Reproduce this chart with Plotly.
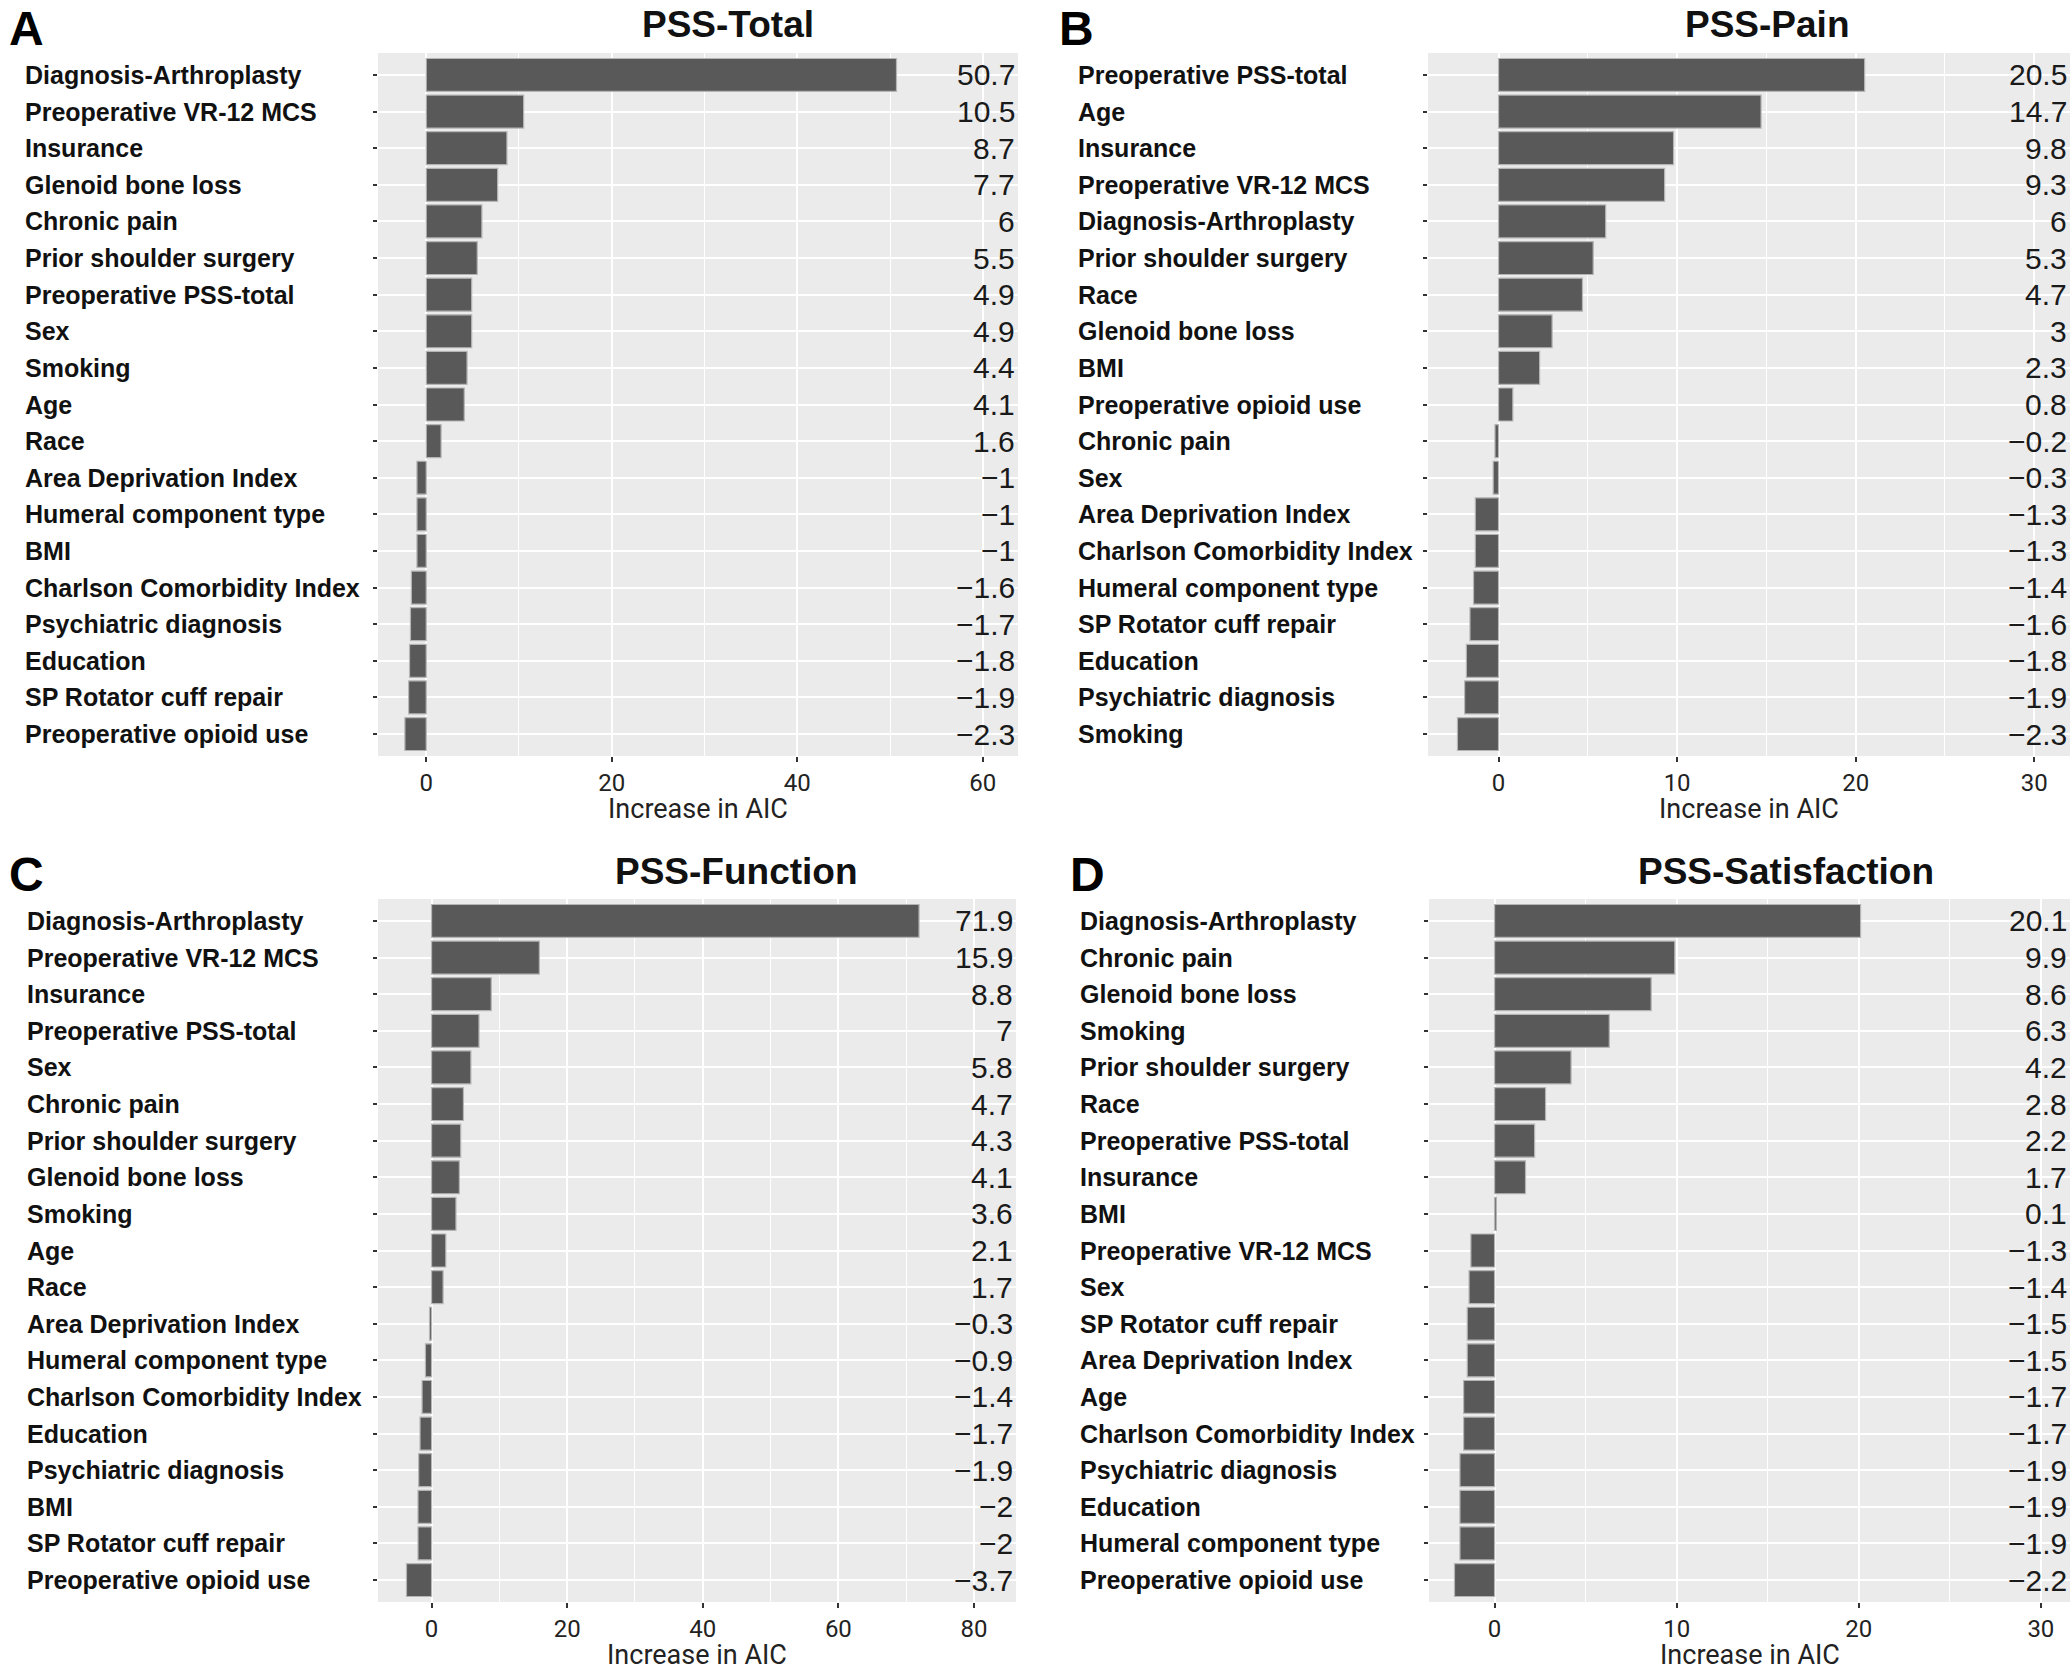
import plotly.graph_objects as go

W, H = 2072, 1672

# ---------------- data ----------------
total_labels = ["Diagnosis-Arthroplasty", "Preoperative VR-12 MCS", "Insurance", "Glenoid bone loss",
                "Chronic pain", "Prior shoulder surgery", "Preoperative PSS-total", "Sex", "Smoking",
                "Age", "Race", "Area Deprivation Index", "Humeral component type", "BMI",
                "Charlson Comorbidity Index", "Psychiatric diagnosis", "Education",
                "SP Rotator cuff repair", "Preoperative opioid use"]
total_values = [50.7, 10.5, 8.7, 7.7, 6, 5.5, 4.9, 4.9, 4.4, 4.1, 1.6, -1, -1, -1, -1.6, -1.7, -1.8, -1.9, -2.3]

pain_labels = ["Preoperative PSS-total", "Age", "Insurance", "Preoperative VR-12 MCS",
               "Diagnosis-Arthroplasty", "Prior shoulder surgery", "Race", "Glenoid bone loss", "BMI",
               "Preoperative opioid use", "Chronic pain", "Sex", "Area Deprivation Index",
               "Charlson Comorbidity Index", "Humeral component type", "SP Rotator cuff repair",
               "Education", "Psychiatric diagnosis", "Smoking"]
pain_values = [20.5, 14.7, 9.8, 9.3, 6, 5.3, 4.7, 3, 2.3, 0.8, -0.2, -0.3, -1.3, -1.3, -1.4, -1.6, -1.8, -1.9, -2.3]

function_labels = ["Diagnosis-Arthroplasty", "Preoperative VR-12 MCS", "Insurance", "Preoperative PSS-total",
                   "Sex", "Chronic pain", "Prior shoulder surgery", "Glenoid bone loss", "Smoking", "Age",
                   "Race", "Area Deprivation Index", "Humeral component type", "Charlson Comorbidity Index",
                   "Education", "Psychiatric diagnosis", "BMI", "SP Rotator cuff repair",
                   "Preoperative opioid use"]
function_values = [71.9, 15.9, 8.8, 7, 5.8, 4.7, 4.3, 4.1, 3.6, 2.1, 1.7, -0.3, -0.9, -1.4, -1.7, -1.9, -2, -2, -3.7]

satisfaction_labels = ["Diagnosis-Arthroplasty", "Chronic pain", "Glenoid bone loss", "Smoking",
                       "Prior shoulder surgery", "Race", "Preoperative PSS-total", "Insurance", "BMI",
                       "Preoperative VR-12 MCS", "Sex", "SP Rotator cuff repair", "Area Deprivation Index",
                       "Age", "Charlson Comorbidity Index", "Psychiatric diagnosis", "Education",
                       "Humeral component type", "Preoperative opioid use"]
satisfaction_values = [20.1, 9.9, 8.6, 6.3, 4.2, 2.8, 2.2, 1.7, 0.1, -1.3, -1.4, -1.5, -1.5, -1.7, -1.7,
                       -1.9, -1.9, -1.9, -2.2]

panel_titles = ["PSS-Total", "PSS-Pain", "PSS-Function", "PSS-Satisfaction"]
panel_letters = ["A", "B", "C", "D"]
x_title = "Increase in AIC"
major_ticks = [[0, 20, 40, 60], [0, 10, 20, 30], [0, 20, 40, 60, 80], [0, 10, 20, 30]]
minor_step = [10, 5, 10, 5]

# ---------------- layout geometry (pixels) ----------------
def px(x):
    return x / W

def py(y):
    return 1 - y / H

panels = [
    # plot left, right, top, bottom, x range, label x, title center x, letter x
    dict(l=378, r=1018, t=53, b=756, rng=[-5.2, 63.8], labx=23, titx=728, letx=7),
    dict(l=1428, r=2070, t=53, b=756, rng=[-3.95, 32.0], labx=1076, titx=1767, letx=1057),
    dict(l=378, r=1016, t=899, b=1602, rng=[-7.9, 86.2], labx=25, titx=736, letx=7),
    dict(l=1429, r=2070, t=899, b=1602, rng=[-3.6, 31.6], labx=1078, titx=1786, letx=1068),
]
data = [(total_labels, total_values), (pain_labels, pain_values),
        (function_labels, function_values), (satisfaction_labels, satisfaction_values)]

fig = go.Figure()
annotations = []
BAR = "#595959"
LABEL_FONT = "Liberation Sans, Arial, sans-serif"
AXIS_FONT = "Roboto, sans-serif"


def fmt(v):
    s = ("%g" % v)
    return s.replace("-", "\u2212")


for i, (p, (labs, vals)) in enumerate(zip(panels, data)):
    n = i + 1
    xa = "x" if n == 1 else f"x{n}"
    ya = "y" if n == 1 else f"y{n}"
    fig.add_trace(go.Bar(
        x=vals, y=labs, orientation="h", xaxis=xa, yaxis=ya,
        marker=dict(color=BAR, line=dict(color="#b5b5b5", width=1.2)),
        width=0.9, showlegend=False, hoverinfo="x+y",
    ))
    xkey = "xaxis" if n == 1 else f"xaxis{n}"
    ykey = "yaxis" if n == 1 else f"yaxis{n}"
    fig.layout[xkey] = dict(
        domain=[px(p["l"]), px(p["r"])], anchor=ya, range=p["rng"],
        tickmode="array", tickvals=major_ticks[i], ticktext=[str(t) for t in major_ticks[i]],
        showgrid=True, gridcolor="white", gridwidth=2.2, zeroline=False,
        ticks="outside", ticklen=5, tickwidth=2, tickcolor="#333333",
        tickfont=dict(family=AXIS_FONT, size=24, color="#222222"),
        minor=dict(tick0=0, dtick=minor_step[i], showgrid=True, gridcolor="white", gridwidth=1.1, ticks=""),
        showline=False, fixedrange=True,
    )
    fig.layout[ykey] = dict(
        domain=[py(p["b"]), py(p["t"])], anchor=xa, type="category",
        categoryorder="array", categoryarray=labs, range=[len(labs) - 0.4, -0.6],
        showgrid=True, gridcolor="white", gridwidth=2.2, zeroline=False,
        ticks="outside", ticklen=4, tickwidth=2, tickcolor="#333333",
        showticklabels=False, showline=False, fixedrange=True,
    )
    # left-aligned category labels
    for lab in labs:
        annotations.append(dict(
            x=px(p["labx"]), xref="paper", xanchor="left", y=lab, yref=ya, yanchor="middle",
            text=lab, showarrow=False,
            font=dict(family=LABEL_FONT, size=25, color="#111111", weight="bold"),
        ))
    # value labels at right of panel
    for lab, v in zip(labs, vals):
        annotations.append(dict(
            x=1, xref=f"{xa} domain", xanchor="right", xshift=-1, y=lab, yref=ya, yanchor="middle",
            text=fmt(v), showarrow=False,
            font=dict(family=LABEL_FONT, size=30, color="#1a1a1a"),
        ))
    # panel title
    annotations.append(dict(
        x=px(p["titx"]), xref="paper", xanchor="center", y=py(p["t"] - 28), yref="paper", yanchor="middle",
        text=panel_titles[i], showarrow=False,
        font=dict(family=LABEL_FONT, size=37, color="#111111", weight="bold"),
    ))
    # panel letter
    annotations.append(dict(
        x=px(p["letx"]), xref="paper", xanchor="left", y=py(p["t"] - 25), yref="paper", yanchor="middle",
        text=panel_letters[i], showarrow=False,
        font=dict(family=LABEL_FONT, size=48, color="#000000", weight="bold"),
    ))
    # x axis title
    annotations.append(dict(
        x=px((p["l"] + p["r"]) / 2), xref="paper", xanchor="center", y=py(p["b"] + 53), yref="paper",
        yanchor="middle", text=x_title, showarrow=False,
        font=dict(family=AXIS_FONT, size=27, color="#222222"),
    ))

fig.update_layout(
    width=W, height=H, margin=dict(l=0, r=0, t=0, b=0),
    paper_bgcolor="white", plot_bgcolor="#EBEBEB",
    annotations=annotations, bargap=0.1,
)

fig.write_html(
    "out.html",
    config={"displayModeBar": False},
    post_script="document.body.style.margin='0px';document.body.style.overflow='hidden';",
)
